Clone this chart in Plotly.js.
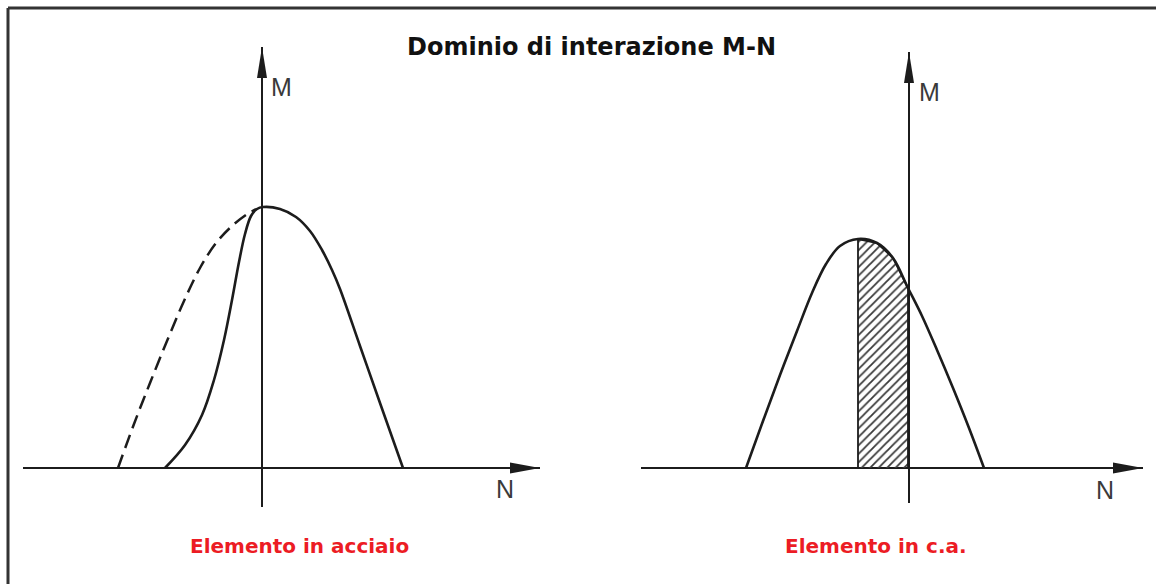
<!DOCTYPE html>
<html>
<head>
<meta charset="utf-8">
<script src="https://cdn.plot.ly/plotly-3.0.1.min.js"></script>
<style>
  html, body { margin: 0; padding: 0; background: #fff; }
  #chart { width: 1156px; height: 584px; }
</style>
</head>
<body>
<div id="chart"></div>
<script>
// steel element (left): solid domain, left branch then right branch
var steelN = [-0.97, -0.77, -0.60, -0.48, -0.38, -0.30, -0.23, -0.17, -0.11, -0.05, 0.01,
              0.18, 0.34, 0.48, 0.60, 0.70, 0.78, 0.98, 1.18, 1.41];
var steelM = [0, 0.23, 0.53, 0.88, 1.28, 1.68, 2.06, 2.34, 2.52, 2.59, 2.61,
              2.59, 2.51, 2.37, 2.18, 1.98, 1.79, 1.22, 0.65, 0];
// dashed branch (no instability)
var dashN = [-1.44, -1.28, -1.12, -0.95, -0.78, -0.62, -0.46, -0.30, -0.16, -0.06];
var dashM = [0, 0.44, 0.85, 1.27, 1.67, 2.00, 2.25, 2.42, 2.53, 2.59];

// reinforced concrete element (right)
var caN = [-1.63, -1.46, -1.29, -1.12, -0.97, -0.83, -0.69, -0.51, -0.32, -0.16, -0.01, 0.13, 0.28, 0.44, 0.60, 0.75];
var caM = [0, 0.47, 0.93, 1.37, 1.75, 2.04, 2.22, 2.29, 2.25, 2.10, 1.80, 1.52, 1.18, 0.80, 0.40, 0];
var hatchFrom = -0.51, hatchTo = -0.01;

var ink = "#1c1c1c";

// hatched strip: part of the c.a. curve between hatchFrom and hatchTo, closed on the N axis
var hx = [hatchFrom], hy = [0];
caN.forEach(function (n, i) {
  if (n >= hatchFrom && n <= hatchTo) { hx.push(n); hy.push(caM[i]); }
});
hx.push(hatchTo); hy.push(0);

var data = [
  {x: dashN, y: dashM, xaxis: "x", yaxis: "y", mode: "lines",
   line: {color: ink, width: 2.5, dash: "14px,7px", shape: "spline"}},
  {x: steelN, y: steelM, xaxis: "x", yaxis: "y", mode: "lines",
   line: {color: ink, width: 2.6, shape: "spline"}},
  {x: hx, y: hy, xaxis: "x2", yaxis: "y2", mode: "lines", fill: "toself",
   fillcolor: "rgba(255,255,255,0)",
   fillpattern: {shape: "/", size: 6, solidity: 0.3, fgcolor: "#3a3a3a", bgcolor: "rgba(255,255,255,0)"},
   line: {color: ink, width: 1.8}},
  {x: caN, y: caM, xaxis: "x2", yaxis: "y2", mode: "lines",
   line: {color: ink, width: 2.6, shape: "spline"}}
];

function bareAxis(extra) {
  var a = {showgrid: false, showticklabels: false, ticks: "", showline: false,
           zeroline: true, zerolinecolor: ink, fixedrange: true};
  for (var k in extra) a[k] = extra[k];
  return a;
}

var W = 1156, H = 584;
function px(v) { return v / W; }
function py(v) { return 1 - v / H; }

var xL = [-2.39, 2.78], yL = [-0.39, 4.21];
var xR = [-2.68, 2.34], yR = [-0.35, 4.16];

function arrowUp(xr, yr, top) {
  return {type: "path", xref: xr, yref: yr, xsizemode: "pixel", ysizemode: "pixel",
          xanchor: 0, yanchor: top, path: "M0,0 L-5,-31 L5,-31 Z",
          fillcolor: ink, line: {width: 0}};
}
function arrowRight(xr, yr, right) {
  return {type: "path", xref: xr, yref: yr, xsizemode: "pixel", ysizemode: "pixel",
          xanchor: right, yanchor: 0, path: "M0,0 L-30,5.5 L-30,-5.5 Z",
          fillcolor: ink, line: {width: 0}};
}

function label(text, x, y, font) {
  return {text: text, xref: "paper", yref: "paper", x: px(x), y: py(y),
          xanchor: "center", yanchor: "middle", showarrow: false, font: font};
}
var titleFont = {family: "Comic Sans MS, DejaVu Sans, sans-serif", size: 24, color: "#111"};
var axisFont = {family: "Liberation Sans Narrow, Liberation Sans, Arial, sans-serif", size: 25, color: "#3a3a3a"};
var redFont = {family: "Comic Sans MS, DejaVu Sans, sans-serif", size: 20, color: "#ec1c24"};

var layout = {
  width: W, height: H,
  margin: {l: 0, r: 0, t: 0, b: 0},
  paper_bgcolor: "#fff", plot_bgcolor: "rgba(0,0,0,0)",
  showlegend: false, hovermode: false,
  xaxis: bareAxis({domain: [px(23), px(540)], range: xL, zerolinewidth: 1.3, anchor: "y"}),
  yaxis: bareAxis({domain: [py(507), py(47)], range: yL, zerolinewidth: 2.2, anchor: "x"}),
  xaxis2: bareAxis({domain: [px(641), px(1143)], range: xR, zerolinewidth: 1.3, anchor: "y2"}),
  yaxis2: bareAxis({domain: [py(503), py(52)], range: yR, zerolinewidth: 2.2, anchor: "x2"}),
  shapes: [
    arrowUp("x", "y", yL[1]), arrowRight("x", "y", xL[1]),
    arrowUp("x2", "y2", yR[1]), arrowRight("x2", "y2", xR[1]),
    {type: "line", xref: "paper", yref: "paper", x0: px(8), x1: px(8), y0: py(8), y1: py(590),
     line: {color: "#333", width: 3}},
    {type: "line", xref: "paper", yref: "paper", x0: px(8), x1: px(1160), y0: py(8), y1: py(8),
     line: {color: "#333", width: 3}}
  ],
  annotations: [
    label("<b>Dominio di interazione M-N</b>", 591, 47, titleFont),
    label("M", 281, 87, axisFont),
    label("M", 929, 92, axisFont),
    label("N", 505, 489, axisFont),
    label("N", 1105, 490, axisFont),
    label("<b>Elemento in acciaio</b>", 299, 546, redFont),
    label("<b>Elemento in c.a.</b>", 876, 546, redFont)
  ]
};

Plotly.newPlot("chart", data, layout, {displayModeBar: false, staticPlot: true});
</script>
</body>
</html>
